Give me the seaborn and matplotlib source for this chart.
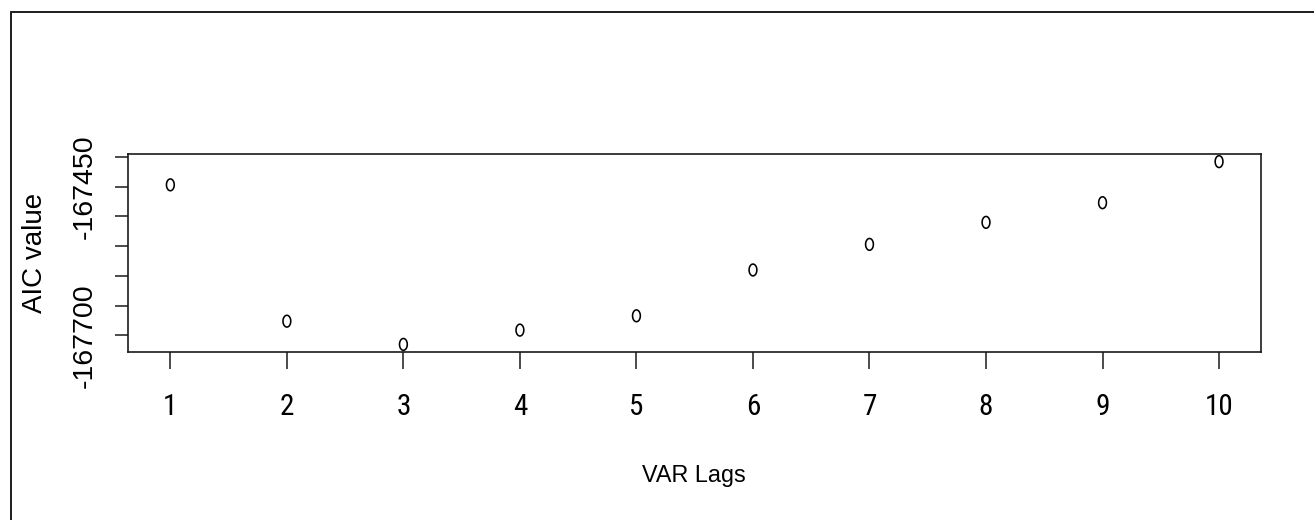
import os
import numpy as np
import matplotlib
matplotlib.use("Agg")
import matplotlib.pyplot as plt
from matplotlib.path import Path
from matplotlib.lines import Line2D
from matplotlib import font_manager
from matplotlib.font_manager import FontProperties
import seaborn as sns
import pandas as pd

# ---- data ----
lags = [1, 2, 3, 4, 5, 6, 7, 8, 9, 10]
aic = [-167447, -167676, -167715, -167691, -167667,
       -167590, -167547, -167510, -167477, -167408]
xtick_labels = ["1", "2", "3", "4", "5", "6", "7", "8", "9", "10"]
ytick_values = [-167400, -167450, -167500, -167550, -167600, -167650, -167700]
ytick_labels = ["", "-167450", "", "", "", "", "-167700"]
x_label = "VAR Lags"
y_label = "AIC value"

sns.set_theme(style="white")
names = {f.name for f in font_manager.fontManager.ttflist}
base = "Liberation Sans" if "Liberation Sans" in names else "DejaVu Sans"
plt.rcParams['font.family'] = [base, 'DejaVu Sans']

# look for a condensed sans file (the reference's tick digits are narrow)
narrow_file, narrow_size = None, 18.5
prefs = [("LiberationSansNarrow-Regular", 22.0),
         ("RobotoCondensed-Regular", 21.0),
         ("Roboto-Condensed", 21.0)]
files = [f.fname for f in font_manager.fontManager.ttflist]
for key, size in prefs:
    hit = [p for p in files if key.lower() in os.path.basename(p).lower()]
    if hit:
        narrow_file, narrow_size = hit[0], size
        break
if narrow_file:
    xtick_fp = FontProperties(fname=narrow_file, size=narrow_size)
else:
    xtick_fp = FontProperties(family=base, size=narrow_size)

W, H = 1314, 520
fig = plt.figure(figsize=(W / 100, H / 100), dpi=100, facecolor="white")
L, R, T, B = 128.4, 1261.0, 154.3, 351.7
ax = fig.add_axes([L / W, 1 - B / H, (R - L) / W, (B - T) / H])

# open elliptical marker (R pch=1 as it looks in the squeezed screenshot)
theta = np.linspace(0, 2 * np.pi, 73)
ell = Path(np.column_stack([0.66 * np.cos(theta), np.sin(theta)]), closed=True)

df = pd.DataFrame({"lag": lags, "aic": aic})
sns.scatterplot(data=df, x="lag", y="aic", ax=ax, marker=ell, s=72,
                facecolor="none", edgecolor="black", linewidth=1.15,
                legend=False)

# R-style 4% range expansion
xr = max(lags) - min(lags)
ax.set_xlim(min(lags) - 0.04 * xr, max(lags) + 0.04 * xr)
yr = max(aic) - min(aic)
ax.set_ylim(min(aic) - 0.04 * yr, max(aic) + 0.04 * yr)

ax.set_xticks(lags, xtick_labels)
ax.set_yticks(ytick_values, ytick_labels)

for sp in ax.spines.values():
    sp.set_visible(True)
    sp.set_color("#1a1a1a")
    sp.set_linewidth(1.2)

ax.tick_params(axis="x", direction="out", length=12, width=1.1,
               color="#1a1a1a", pad=17.5, labelcolor="black", bottom=True)
ax.tick_params(axis="y", direction="out", length=9.6, width=1.1,
               color="#1a1a1a", pad=16.6, labelsize=20.5, labelcolor="black",
               left=True)

for lab in ax.get_xticklabels():
    lab.set_fontproperties(xtick_fp)
plt.setp(ax.get_yticklabels(), rotation=90, rotation_mode="anchor",
         ha="center", va="baseline")

ax.set_xlabel(x_label, fontsize=16.8, color="black")
ax.xaxis.set_label_coords((694.2 - L) / (R - L), (B - 481.7) / (B - T))
ax.xaxis.label.set_verticalalignment("baseline")

ax.set_ylabel(y_label, fontsize=20, color="black")
ax.yaxis.set_label_coords((41.7 - L) / (R - L), (B - 252.5) / (B - T))
ax.yaxis.label.set_verticalalignment("baseline")

# screenshot frame (left and top edges)
fig.add_artist(Line2D([11 / W, 11 / W], [0, 1 - 12 / H], transform=fig.transFigure,
                      color="#222222", lw=1.44))
fig.add_artist(Line2D([11 / W, 1], [1 - 12 / H, 1 - 12 / H], transform=fig.transFigure,
                      color="#222222", lw=1.44))

fig.savefig("out.png", dpi=100, facecolor="white")
